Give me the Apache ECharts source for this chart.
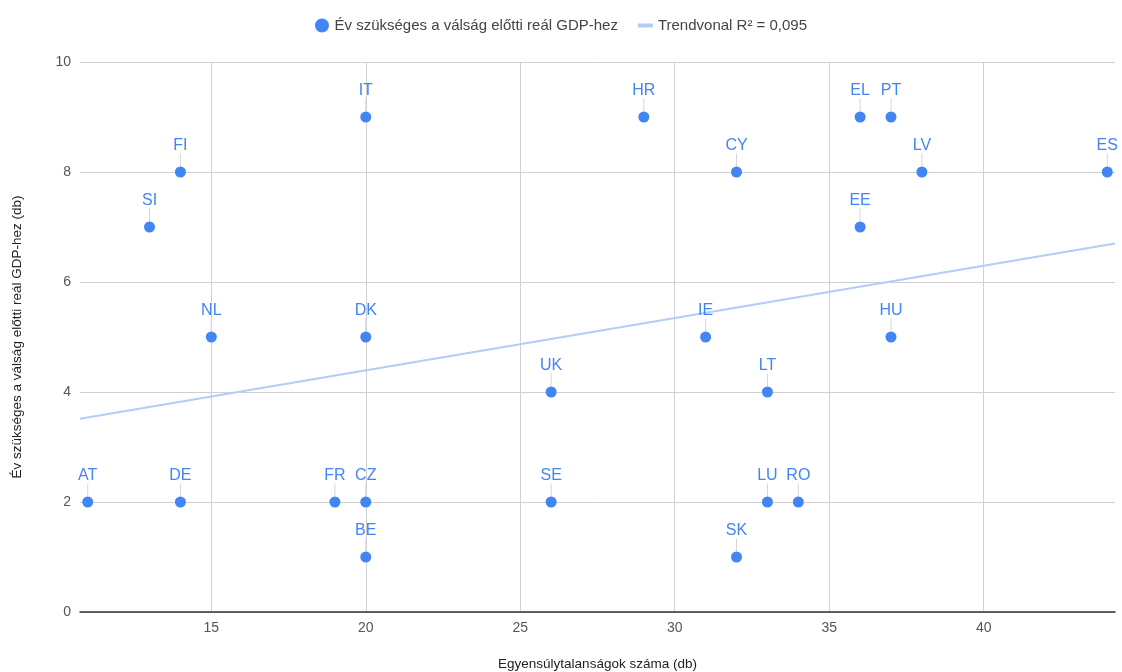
<!DOCTYPE html>
<html>
<head>
<meta charset="utf-8">
<script src="https://cdn.jsdelivr.net/npm/echarts@6/dist/echarts.min.js"></script>
<style>html,body{margin:0;padding:0;background:#fff}#c{width:1122px;height:672px}</style>
</head>
<body>
<div id="c"></div>
<script>
const countries = ['AT','DE','FI','SI','NL','IT','DK','FR','CZ','BE','UK','SE','HR','CY','IE','LT','LU','RO','SK','EL','PT','LV','EE','HU','ES'];
const imbalances = [11,14,14,13,15,20,20,19,20,20,26,26,29,32,31,33,33,34,32,36,37,38,36,37,44];
const yearsNeeded = [2,2,8,7,5,9,5,2,2,1,4,2,9,8,5,4,2,2,1,9,9,8,7,5,8];
const xTicks = [15,20,25,30,35,40];
const yTicks = [0,2,4,6,8,10];
const seriesName = 'Év szükséges a válság előtti reál GDP-hez';
const trendName = 'Trendvonal R² = 0,095';
const xName = 'Egyensúlytalanságok száma (db)';
const yName = 'Év szükséges a válság előtti reál GDP-hez (db)';

// least squares trend line from the data
const n = imbalances.length;
const mx = imbalances.reduce((a,b)=>a+b,0)/n;
const my = yearsNeeded.reduce((a,b)=>a+b,0)/n;
let sxy=0, sxx=0;
for (let i=0;i<n;i++){ sxy+=(imbalances[i]-mx)*(yearsNeeded[i]-my); sxx+=(imbalances[i]-mx)**2; }
const slope = sxy/sxx, icpt = my - slope*mx;
const xMin = 10.75, xMax = 44.25;
const trend = [[xMin, icpt+slope*xMin],[xMax, icpt+slope*xMax]];

const pts = imbalances.map((x,i)=>({value:[x, yearsNeeded[i]], name:countries[i]}));
const font = 'Arial, "Liberation Sans", sans-serif';
const chart = echarts.init(document.getElementById('c'));
chart.setOption({
  animation:false,
  textStyle:{fontFamily:font},
  legend:{
    top:13, left:'center', itemGap:20, itemWidth:15, itemHeight:14,
    textStyle:{fontSize:15, color:'#444', fontFamily:font},
    data:[
      {name:seriesName, icon:'circle', itemStyle:{color:'#4285f4'}},
      {name:trendName, icon:'path://M0,0H15V4H0Z', itemStyle:{color:'#b3cdf7'}}
    ]
  },
  grid:{left:80, right:7, top:62, bottom:60, containLabel:false, outerBoundsMode:'none'},
  xAxis:{
    type:'value', min:xMin, max:xMax,
    name:xName, nameLocation:'middle', nameGap:45,
    nameTextStyle:{fontSize:13.5, color:'#222', fontFamily:font},
    axisLine:{show:true, onZero:false, lineStyle:{color:'#333', width:1.5}},
    axisTick:{show:false, customValues:xTicks},
    axisLabel:{customValues:xTicks, fontSize:14, color:'#555', margin:9},
    splitLine:{show:true, lineStyle:{color:'#d0d0d0'}}
  },
  yAxis:{
    type:'value', min:0, max:10, interval:2,
    name:yName, nameLocation:'middle', nameGap:56, nameRotate:90,
    nameTextStyle:{fontSize:13.5, color:'#222', fontFamily:font},
    axisLine:{show:false}, axisTick:{show:false},
    axisLabel:{fontSize:14, color:'#555', margin:9},
    splitLine:{show:true, lineStyle:{color:'#d0d0d0'}}
  },
  series:[
    {
      name:trendName, type:'line', data:trend, symbol:'none', z:1,
      lineStyle:{color:'#b3cdf7', width:2}, silent:true
    },
    {
      name:seriesName, type:'scatter', data:pts, symbolSize:11, z:3,
      itemStyle:{color:'#4285f4', opacity:1},
      label:{show:true, position:'top', distance:4, formatter:p=>p.name, fontSize:16, color:'#4285f4', fontFamily:font},
      labelLayout:{dy:-9},
      labelLine:{show:true, lineStyle:{color:'#d6d6d6', width:1}}
    }
  ]
});
</script>
</body>
</html>
